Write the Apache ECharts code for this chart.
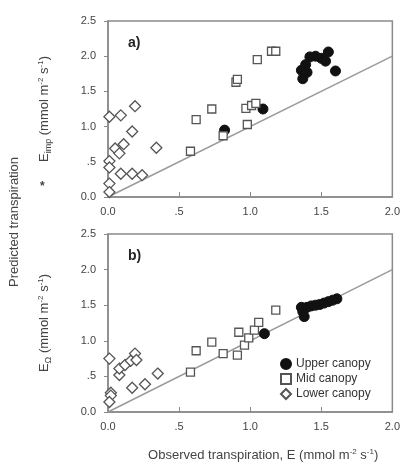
<!DOCTYPE html>
<html>
<head>
<meta charset="utf-8">
<script src="https://cdn.jsdelivr.net/npm/echarts@6/dist/echarts.min.js"></script>
<style>
  html, body { margin: 0; padding: 0; background: #fff; }
  #chart { width: 403px; height: 466px; }
</style>
</head>
<body>
<div id="chart"></div>
<script>
/* values: [observed E, predicted E] */
const upperA = [[0.82,0.95],[1.09,1.25],[1.36,1.80],[1.37,1.68],[1.39,1.88],[1.40,1.77],
  [1.42,1.99],[1.46,2.00],[1.50,1.97],[1.53,1.93],[1.55,2.06],[1.60,1.79]];
const midA = [[0.58,0.65],[0.62,1.10],[0.73,1.25],[0.81,0.87],[0.90,1.63],[0.91,1.67],
  [0.97,1.26],[0.98,1.03],[1.01,1.30],[1.04,1.33],[1.05,1.95],[1.15,2.07],[1.18,2.07]];
const lowerA = [[0.01,1.14],[0.09,1.16],[0.19,1.29],[0.17,0.93],[0.34,0.70],[0.05,0.69],
  [0.11,0.75],[0.08,0.62],[0.01,0.51],[0.01,0.42],[0.09,0.33],[0.17,0.33],[0.24,0.31],
  [0.01,0.19],[0.01,0.07]];

const upperB = [[1.10,1.10],[1.36,1.47],[1.37,1.41],[1.38,1.34],[1.40,1.47],[1.43,1.49],
  [1.46,1.50],[1.49,1.51],[1.52,1.53],[1.55,1.55],[1.58,1.57],[1.61,1.59]];
const midB = [[0.58,0.56],[0.62,0.86],[0.73,0.98],[0.81,0.82],[0.91,0.80],[0.92,1.12],
  [0.96,0.94],[0.99,1.04],[1.03,1.15],[1.06,1.26],[1.18,1.43]];
const lowerB = [[0.01,0.75],[0.08,0.52],[0.08,0.61],[0.12,0.66],[0.16,0.72],[0.19,0.82],
  [0.20,0.73],[0.35,0.54],[0.17,0.34],[0.26,0.39],[0.02,0.27],[0.02,0.23],[0.01,0.14]];

const oneToOne = [[0, 0], [2, 2]];
const groupNames = ['Upper canopy', 'Mid canopy', 'Lower canopy'];

const FONT = 'Liberation Sans, Arial, sans-serif';
const AXIS_GREY = '#8a8a8a';

/* tick label: 0.5 printed as ".5" like the figure */
const tickFmt = (v) => (v === 0.5 ? '.5' : v.toFixed(1));

const makeX = (gridIndex, withName) => ({
  type: 'value', gridIndex, min: 0, max: 2, interval: 0.5,
  axisLine: { lineStyle: { color: AXIS_GREY, width: 1.5 } },
  axisTick: { inside: true, length: 5, lineStyle: { color: AXIS_GREY } },
  axisLabel: { formatter: tickFmt, color: '#444', fontSize: 11, fontFamily: FONT, margin: 9 },
  splitLine: { show: false },
  name: withName ? 'Observed transpiration, E (mmol m{sup|-2} s{sup|-1})' : '',
  nameLocation: 'middle', nameGap: 36,
  nameTextStyle: { color: '#444', fontSize: 13, fontFamily: FONT, padding: [0, 0, 0, 26],
    rich: { sup: { fontSize: 8, fontFamily: FONT, color: '#444', padding: [0, 0, 7, 0] } } },
});

const makeY = (gridIndex, name) => ({
  type: 'value', gridIndex, min: 0, max: 2.5, interval: 0.5,
  axisLine: { lineStyle: { color: AXIS_GREY, width: 1.5 } },
  axisTick: { inside: false, length: 4, lineStyle: { color: AXIS_GREY } },
  axisLabel: { formatter: tickFmt, color: '#444', fontSize: 11, fontFamily: FONT, margin: 12 },
  splitLine: { show: false },
  name, nameLocation: 'middle', nameGap: 55, nameRotate: 90,
  nameTextStyle: { color: '#444', fontSize: 13, fontFamily: FONT,
    rich: {
      sub: { fontSize: 9, fontFamily: FONT, color: '#444', padding: [9, 0, 0, 0] },
      sup: { fontSize: 8, fontFamily: FONT, color: '#444', padding: [0, 0, 7, 0] },
    } },
});

const upperStyle = { color: '#111', borderColor: '#111', borderWidth: 1, opacity: 1 };
const midStyle = { color: '#fff', borderColor: '#555', borderWidth: 1.3, opacity: 1 };
const lowerStyle = { color: '#fff', borderColor: '#555', borderWidth: 1.3, opacity: 1 };

const scatter = (name, data, idx, symbol, size, itemStyle) => ({
  name, type: 'scatter', data, xAxisIndex: idx, yAxisIndex: idx,
  symbol, symbolSize: size, itemStyle, z: 3,
});

const refLine = (idx) => ({
  type: 'line', data: oneToOne, xAxisIndex: idx, yAxisIndex: idx,
  symbol: 'none', silent: true, z: 1,
  lineStyle: { color: '#9a9a9a', width: 1.5 },
});

const chart = echarts.init(document.getElementById('chart'), null, { renderer: 'canvas' });

chart.setOption({
  backgroundColor: '#fff',
  animation: false,
  grid: [
    { left: 108, top: 21, width: 289, height: 176, show: true, borderColor: AXIS_GREY, borderWidth: 1.5 },
    { left: 108, top: 234, width: 288, height: 178, show: true, borderColor: AXIS_GREY, borderWidth: 1.5 },
  ],
  xAxis: [makeX(0, false), makeX(1, true)],
  yAxis: [
    makeY(0, 'E{sub|imp} (mmol m{sup|-2} s{sup|-1})'),
    makeY(1, 'E{sub|Ω} (mmol m{sup|-2} s{sup|-1})'),
  ],
  legend: {
    data: groupNames,
    orient: 'vertical', left: 275, top: 353,
    itemWidth: 10, itemHeight: 10, itemGap: 3,
    textStyle: { color: '#333', fontSize: 12, fontFamily: FONT },
  },
  graphic: [
    { type: 'text', left: 128, top: 36,
      style: { text: 'a)', font: 'bold 14px ' + FONT, fill: '#222' } },
    { type: 'text', left: 128, top: 249,
      style: { text: 'b)', font: 'bold 14px ' + FONT, fill: '#222' } },
    { type: 'text', x: 40, y: 181,
      style: { text: '*', font: 'bold 12px ' + FONT, fill: '#444' } },
    { type: 'text', x: 8, y: 287, rotation: Math.PI / 2,
      style: { text: 'Predicted transpiration', font: '13px ' + FONT, fill: '#444' } },
  ],
  series: [
    refLine(0),
    refLine(1),
    scatter(groupNames[0], upperA, 0, 'circle', 10, upperStyle),
    scatter(groupNames[1], midA, 0, 'rect', 8, midStyle),
    scatter(groupNames[2], lowerA, 0, 'diamond', 11, lowerStyle),
    scatter(groupNames[0], upperB, 1, 'circle', 10, upperStyle),
    scatter(groupNames[1], midB, 1, 'rect', 8, midStyle),
    scatter(groupNames[2], lowerB, 1, 'diamond', 11, lowerStyle),
  ],
});
</script>
</body>
</html>
